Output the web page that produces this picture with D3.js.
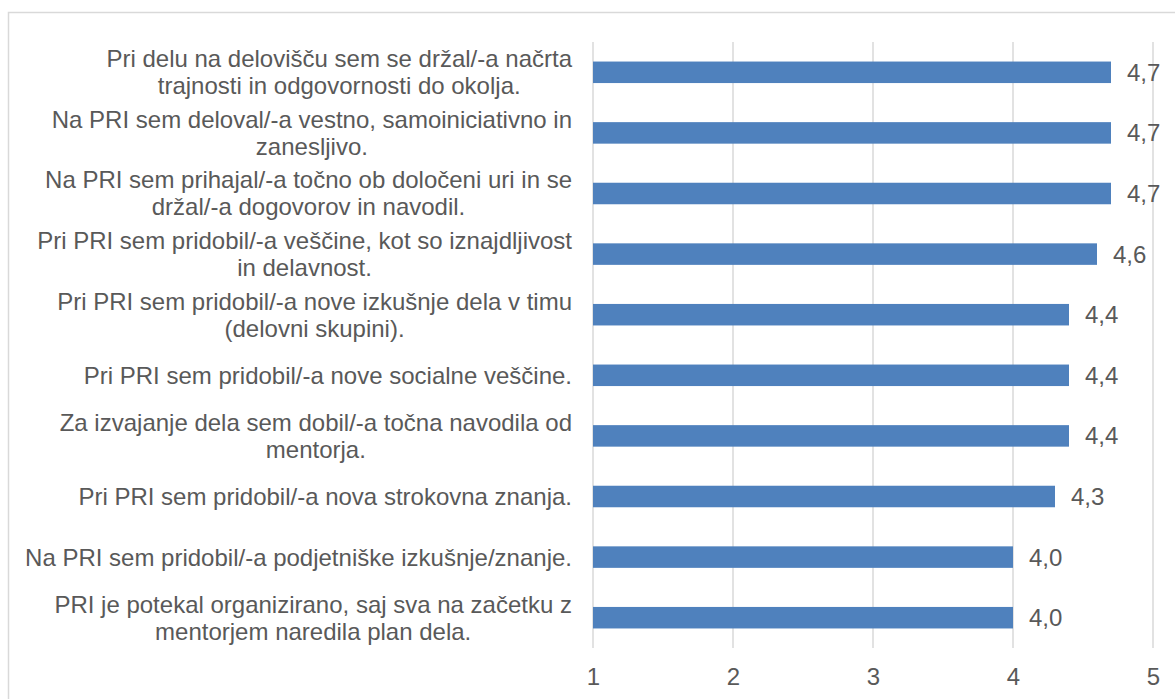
<!DOCTYPE html>
<html>
<head>
<meta charset="utf-8">
<script src="https://cdn.jsdelivr.net/npm/d3@7"></script>
<style>
  html, body { margin: 0; padding: 0; background: #fff; }
  svg { display: block; }
  text { font-family: "Liberation Sans", Arial, sans-serif; fill: #595959; }
</style>
</head>
<body>
<svg id="chart" width="1175" height="699"></svg>
<script>
// Statements (each entry is a list of wrapped lines), top to bottom
const categories = [
  ["Pri delu na delovišču sem se držal/-a načrta", "trajnosti in odgovornosti do okolja."],
  ["Na PRI sem deloval/-a vestno, samoiniciativno in", "zanesljivo."],
  ["Na PRI sem prihajal/-a točno ob določeni uri in se", "držal/-a dogovorov in navodil."],
  ["Pri PRI sem pridobil/-a veščine, kot so iznajdljivost", "in delavnost."],
  ["Pri PRI sem pridobil/-a nove izkušnje dela v timu", "(delovni skupini)."],
  ["Pri PRI sem pridobil/-a nove socialne veščine."],
  ["Za izvajanje dela sem dobil/-a točna navodila od", "mentorja."],
  ["Pri PRI sem pridobil/-a nova strokovna znanja."],
  ["Na PRI sem pridobil/-a podjetniške izkušnje/znanje."],
  ["PRI je potekal organizirano, saj sva na začetku z", "mentorjem naredila plan dela."]
];
// Mean scores
const values = [4.7, 4.7, 4.7, 4.6, 4.4, 4.4, 4.4, 4.3, 4.0, 4.0];
const valueLabels = ["4,7", "4,7", "4,7", "4,6", "4,4", "4,4", "4,4", "4,3", "4,0", "4,0"];
// Axis
const xTicks = [1, 2, 3, 4, 5];
const xDomain = [1, 5];

const svg = d3.select("#chart");
const fontSize = 24;
const lineH = 27;

// Chart area frame
svg.append("rect")
  .attr("x", 8.5).attr("y", 12.5)
  .attr("width", 1180).attr("height", 700)
  .attr("fill", "none").attr("stroke", "#d9d9d9").attr("stroke-width", 1.5);

const plot = { left: 593, right: 1153, top: 42, bottom: 648 };

const x = d3.scaleLinear().domain(xDomain).range([plot.left, plot.right]);
const y = d3.scaleBand()
  .domain(d3.range(categories.length))
  .range([plot.top, plot.bottom])
  .paddingInner(0.645).paddingOuter(0.3225);

// Vertical gridlines
svg.append("g")
  .selectAll("line")
  .data(xTicks)
  .join("line")
  .attr("x1", d => x(d)).attr("x2", d => x(d))
  .attr("y1", plot.top).attr("y2", plot.bottom)
  .attr("stroke", "#d9d9d9").attr("stroke-width", 1.5);

// X axis tick labels
const xAxis = d3.axisBottom(x).tickValues(xTicks).tickSize(0).tickPadding(0).tickFormat(d3.format("d"));
const gx = svg.append("g").attr("transform", `translate(0,${plot.bottom})`).call(xAxis);
gx.select(".domain").remove();
gx.selectAll("text")
  .attr("y", 29).attr("dy", "0.35em")
  .style("font-size", fontSize + "px")
  .style("font-family", "'Liberation Sans', Arial, sans-serif")
  .attr("fill", "#595959");

// Bars
svg.append("g")
  .selectAll("rect")
  .data(values)
  .join("rect")
  .attr("x", x(xDomain[0]))
  .attr("y", (d, i) => y(i))
  .attr("width", d => x(d) - x(xDomain[0]))
  .attr("height", y.bandwidth())
  .attr("fill", "#4f81bd");

// Value labels
svg.append("g")
  .selectAll("text")
  .data(values)
  .join("text")
  .attr("x", d => x(d) + 16)
  .attr("y", (d, i) => y(i) + y.bandwidth() / 2)
  .attr("dy", "0.35em")
  .style("font-size", fontSize + "px")
  .text((d, i) => valueLabels[i]);

// Category labels: wrapped lines are centred on each other, block right-aligned
const labelRight = 572;
const gl = svg.append("g");
categories.forEach((lines, i) => {
  const cy = y(i) + y.bandwidth() / 2;
  const t = gl.append("text")
    .style("font-size", fontSize + "px")
    .attr("text-anchor", "middle");
  const spans = lines.map((ln, k) => t.append("tspan")
    .attr("y", cy + (k - (lines.length - 1) / 2) * lineH)
    .attr("dy", "0.35em")
    .text(ln));
  const maxW = d3.max(spans, s => s.node().getComputedTextLength());
  spans.forEach(s => s.attr("x", labelRight - maxW / 2));
});
</script>
</body>
</html>
